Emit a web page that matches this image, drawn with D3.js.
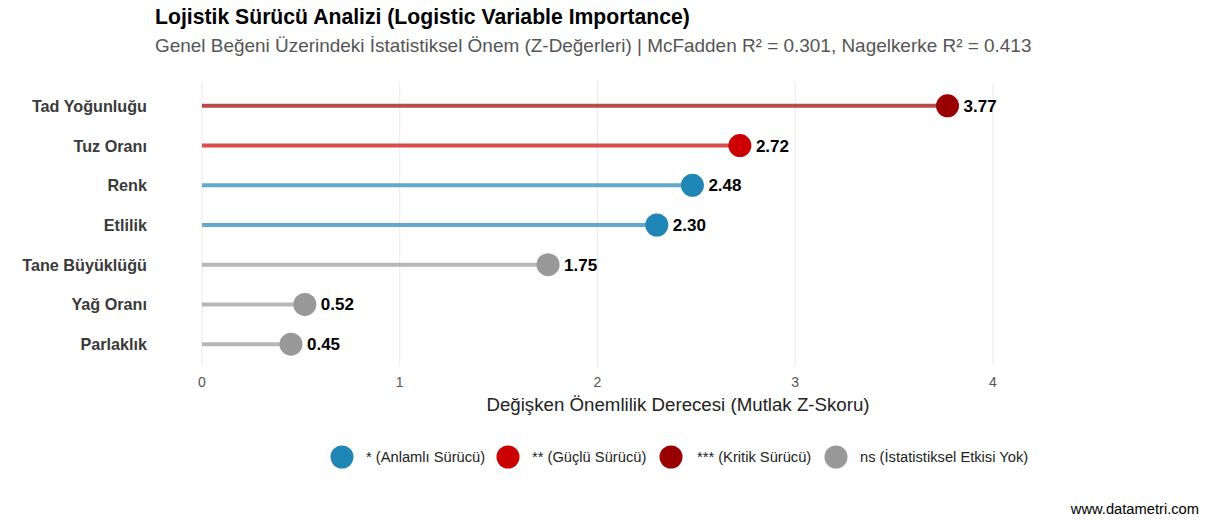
<!DOCTYPE html>
<html><head><meta charset="utf-8">
<script src="https://cdn.jsdelivr.net/npm/d3@7"></script>
<style>body{margin:0;background:#fff}svg{font-family:"Liberation Sans",Arial,sans-serif}</style>
</head><body><svg id="c" width="1206" height="521"></svg>
<script>
const categories = ["Tad Yoğunluğu","Tuz Oranı","Renk","Etlilik","Tane Büyüklüğü","Yağ Oranı","Parlaklık"];
const zValues = [3.77, 2.72, 2.48, 2.30, 1.75, 0.52, 0.45];
const significance = ["***","**","*","*","ns","ns","ns"];
const xTicks = [0,1,2,3,4];
const legendKeys = ["*","**","***","ns"];
const legendLabels = ["* (Anlamlı Sürücü)","** (Güçlü Sürücü)","*** (Kritik Sürücü)","ns (İstatistiksel Etkisi Yok)"];
const colorMap = {"*":"#1F86B6","**":"#CC0000","***":"#990000","ns":"#999999"};

const svg = d3.select("#c");
const x = d3.scaleLinear().domain([0,4]).range([202,993]);
const y = d3.scalePoint().domain(categories).range([82,368]).padding(0.6);

svg.append("g").selectAll("line").data(xTicks).join("line")
  .attr("x1",d=>x(d)).attr("x2",d=>x(d)).attr("y1",82).attr("y2",366)
  .attr("stroke","#ebebeb").attr("stroke-width",1);

const data = categories.map((c,i)=>({c, v:zValues[i], s:significance[i]}));

svg.append("g").selectAll("line").data(data).join("line")
  .attr("x1",x(0)).attr("x2",d=>x(d.v)).attr("y1",d=>y(d.c)).attr("y2",d=>y(d.c))
  .attr("stroke",d=>colorMap[d.s]).attr("stroke-opacity",0.7).attr("stroke-width",4);
svg.append("g").selectAll("circle").data(data).join("circle")
  .attr("cx",d=>x(d.v)).attr("cy",d=>y(d.c)).attr("r",11.5).attr("fill",d=>colorMap[d.s]);
svg.append("g").selectAll("text").data(data).join("text")
  .attr("x",d=>x(d.v)+16).attr("y",d=>y(d.c)+6)
  .attr("font-size",17).attr("font-weight","bold").attr("fill","#000")
  .text(d=>d.v.toFixed(2));

svg.append("g").selectAll("text").data(categories).join("text")
  .attr("x",147).attr("y",d=>y(d)+6).attr("text-anchor","end")
  .attr("font-size",16.2).attr("font-weight","bold").attr("fill","#3a3a3a").text(d=>d);

svg.append("g").selectAll("text").data(xTicks).join("text")
  .attr("x",d=>x(d)).attr("y",387).attr("text-anchor","middle")
  .attr("font-size",14).attr("fill","#555").text(d=>d);

svg.append("text").attr("x",678).attr("y",411).attr("text-anchor","middle")
  .attr("font-size",18.7).attr("fill","#222").text("Değişken Önemlilik Derecesi (Mutlak Z-Skoru)");

svg.append("text").attr("x",155).attr("y",24).attr("font-size",21.2).attr("font-weight","bold")
  .attr("fill","#000").text("Lojistik Sürücü Analizi (Logistic Variable Importance)");
svg.append("text").attr("x",155).attr("y",52).attr("font-size",18.95).attr("fill","#555")
  .text("Genel Beğeni Üzerindeki İstatistiksel Önem (Z-Değerleri) | McFadden R² = 0.301, Nagelkerke R² = 0.413");

const lg = svg.append("g");
const legendX = [342, 508, 671, 836];
legendKeys.forEach((k,i)=>{
  lg.append("circle").attr("cx",legendX[i]).attr("cy",457).attr("r",11.5).attr("fill",colorMap[k]);
  lg.append("text").attr("x",legendX[i]+(k==="***"?26:24)).attr("y",462).attr("font-size",14.7)
    .attr("fill","#222").text(legendLabels[i]);
});

svg.append("text").attr("x",1199).attr("y",514).attr("text-anchor","end").attr("font-size",14.7)
  .attr("fill","#000").text("www.datametri.com");
</script></body></html>
